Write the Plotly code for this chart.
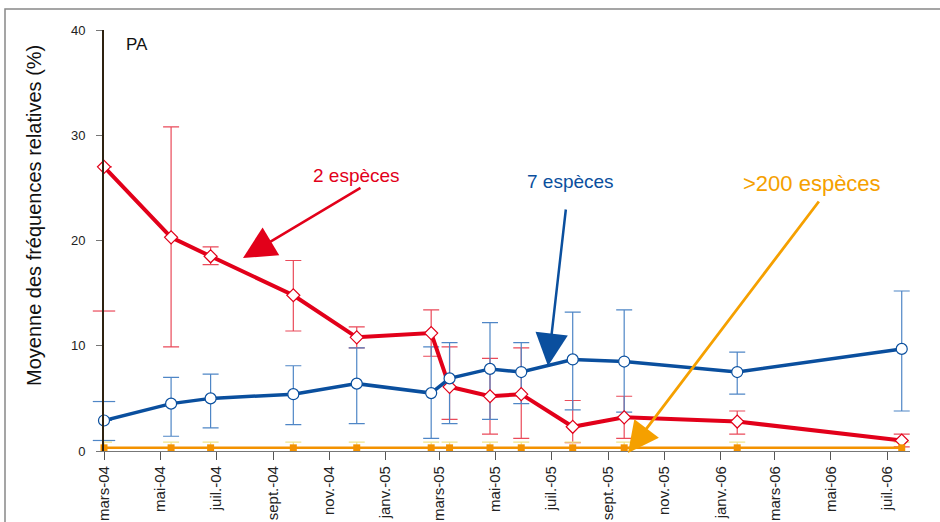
import plotly.graph_objects as go

# ---- data ----
dates = ["2004-03-01", "2004-05-13", "2004-06-25", "2004-09-23", "2004-12-01",
         "2005-02-20", "2005-03-12", "2005-04-25", "2005-05-29", "2005-07-24",
         "2005-09-18", "2006-01-19", "2006-07-17"]

red_y = [27.0, 20.3, 18.5, 14.8, 10.8, 11.2, 6.1, 5.2, 5.4, 2.3, 3.2, 2.8, 1.0]
red_up = [40.4, 30.8, 19.4, 18.1, 11.8, 13.4, 9.9, 8.8, 9.8, 4.8, 5.2, 3.8, 1.6]
red_lo = [13.3, 9.9, 17.7, 11.4, 9.8, 9.0, 3.0, 1.6, 1.2, 0.8, 1.2, 1.6, 0.4]

blue_y = [2.9, 4.5, 5.0, 5.4, 6.4, 5.5, 6.9, 7.8, 7.5, 8.7, 8.5, 7.5, 9.7]
blue_up = [4.7, 7.0, 7.3, 8.1, 9.8, 9.9, 10.3, 12.2, 10.3, 13.2, 13.4, 9.4, 15.2]
blue_lo = [1.0, 1.4, 2.2, 2.5, 2.6, 1.2, 2.6, 3.0, 4.5, 3.9, 3.7, 5.4, 3.8]

orange_y = [0.3] * 13
orange_err = [0.55] * 13

tick_dates = ["2004-03-01", "2004-05-01", "2004-07-01", "2004-09-01", "2004-11-01",
              "2005-01-01", "2005-03-01", "2005-05-01", "2005-07-01", "2005-09-01",
              "2005-11-01", "2006-01-01", "2006-03-01", "2006-05-01", "2006-07-01"]
tick_labels = ["mars-04", "mai-04", "juil.-04", "sept.-04", "nov.-04", "janv.-05",
               "mars-05", "mai-05", "juil.-05", "sept.-05", "nov.-05", "janv.-06",
               "mars-06", "mai-06", "juil.-06"]

FONT = "Arial, Liberation Sans, sans-serif"
W, H = 940, 522
L, R, T, B = 104, 30, 30, 71
PW, PH = W - L - R, H - T - B

RED, BLUE, ORANGE = "#e2001a", "#0a4f9e", "#f5a000"
RED_ERR, BLUE_ERR = "#ea4a5a", "#4f86c6"


def px(xp):
    return (xp - L) / PW


def py(yp):
    return (H - B - yp) / PH


def err_plus(up, y):
    # first point sits on the y axis: its whisker is hidden behind the axis line
    return [None] + [u - v for u, v in zip(up[1:], y[1:])]


def err_minus(y, lo):
    return [None] + [v - l for v, l in zip(y[1:], lo[1:])]


fig = go.Figure()
INVIS = dict(size=2, color="rgba(0,0,0,0)")

# error bars first (below lines)
fig.add_trace(go.Scatter(
    x=dates, y=red_y, mode="markers", marker=INVIS, hoverinfo="skip",
    error_y=dict(type="data", symmetric=False,
                 array=err_plus(red_up, red_y), arrayminus=err_minus(red_y, red_lo),
                 color=RED_ERR, thickness=1.2, width=8),
    cliponaxis=False,
))
fig.add_trace(go.Scatter(
    x=dates, y=blue_y, mode="markers", marker=INVIS, hoverinfo="skip",
    error_y=dict(type="data", symmetric=False,
                 array=err_plus(blue_up, blue_y), arrayminus=err_minus(blue_y, blue_lo),
                 color=BLUE_ERR, thickness=1.2, width=8),
    cliponaxis=False,
))
fig.add_trace(go.Scatter(
    x=dates, y=orange_y, mode="markers", marker=INVIS, hoverinfo="skip",
    error_y=dict(type="data", array=orange_err, color="#efe58a",
                 thickness=1.2, width=8),
    cliponaxis=False,
))
# caps of the first-point whiskers
fig.add_trace(go.Scatter(
    x=[dates[0]] * 2, y=[red_up[0], red_lo[0]], mode="markers", hoverinfo="skip",
    marker=dict(symbol="line-ew", size=16, line=dict(color=RED_ERR, width=1.2)),
    cliponaxis=False,
))
fig.add_trace(go.Scatter(
    x=[dates[0]] * 2, y=[blue_up[0], blue_lo[0]], mode="markers", hoverinfo="skip",
    marker=dict(symbol="line-ew", size=16, line=dict(color=BLUE_ERR, width=1.2)),
    cliponaxis=False,
))

fig.add_trace(go.Scatter(
    x=dates, y=red_y, mode="lines+markers", name="2 espèces",
    line=dict(color=RED, width=4),
    marker=dict(symbol="diamond", size=10, color="white",
                line=dict(color=RED, width=1.2)),
    cliponaxis=False,
))
fig.add_trace(go.Scatter(
    x=dates, y=blue_y, mode="lines+markers", name="7 espèces",
    line=dict(color=BLUE, width=3.5),
    marker=dict(symbol="circle", size=11, color="white",
                line=dict(color=BLUE, width=1.2)),
    cliponaxis=False,
))
fig.add_trace(go.Scatter(
    x=dates, y=orange_y, mode="lines+markers", name=">200 espèces",
    line=dict(color="#f39200", width=2.5),
    marker=dict(symbol="square", size=7, color="#f39200"),
    cliponaxis=False,
))


def arrow(hx, hy, tx, ty, color, w=2.5, s=2.6):
    return dict(x=px(hx), y=py(hy), xref="paper", yref="paper",
                ax=tx - hx, ay=ty - hy, showarrow=True, arrowhead=2,
                arrowsize=s, arrowwidth=w, arrowcolor=color, text="")


def label(xp, yp, text, color, size):
    return dict(x=px(xp), y=py(yp), xref="paper", yref="paper", text=text,
                xanchor="center", yanchor="middle", showarrow=False,
                font=dict(family=FONT, size=size, color=color))


annotations = [
    arrow(243, 258, 362, 187, RED),
    arrow(548, 366, 566, 208, BLUE),
    arrow(628, 453, 820, 200, ORANGE, 2.8, 2.2),
    label(356, 175, "2 espèces", RED, 19),
    label(570, 181, "7 espèces", BLUE, 19),
    label(812, 183, ">200 espèces", ORANGE, 22),
    label(137, 44, "PA", "#111", 17),
    dict(x=px(34), y=py(216), xref="paper", yref="paper",
         text="Moyenne des fréquences relatives (%)", textangle=-90,
         xanchor="center", yanchor="middle",
         showarrow=False, font=dict(family=FONT, size=20, color="#111")),
]

fig.update_layout(
    width=W, height=H,
    margin=dict(l=L, r=R, t=T, b=B, autoexpand=False),
    paper_bgcolor="white", plot_bgcolor="white",
    showlegend=False,
    font=dict(family=FONT, size=12, color="#222"),
    annotations=annotations,
    shapes=[dict(type="rect", xref="paper", yref="paper",
                 x0=px(5), y0=-1, x1=2, y1=py(9),
                 line=dict(color="#888", width=1.5), layer="below")],
    xaxis=dict(type="date", range=["2004-03-01", "2006-07-26"],
               tickvals=tick_dates, ticktext=tick_labels, tickangle=-90,
               automargin=False,
               showgrid=False, zeroline=False, showline=True,
               linecolor="#777", linewidth=1.2,
               ticks="outside", ticklen=8, tickcolor="#555",
               tickfont=dict(family=FONT, size=15, color="#222")),
    yaxis=dict(range=[0, 40], tickvals=[0, 10, 20, 30, 40],
               automargin=False,
               showgrid=False, zeroline=False, showline=True,
               linecolor="#2e2210", linewidth=2,
               ticks="outside", ticklen=6, tickcolor="#777",
               ticklabelstandoff=8,
               tickfont=dict(family=FONT, size=13, color="#222")),
)

fig.write_html("out.html")
